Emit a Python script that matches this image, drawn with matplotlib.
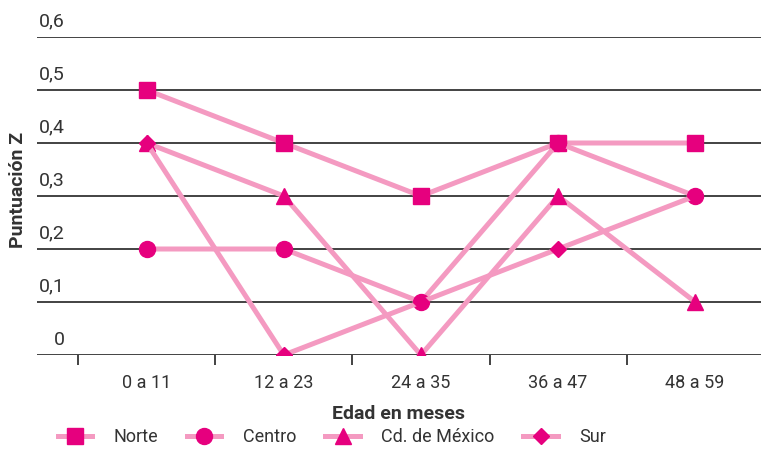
import matplotlib
matplotlib.use("Agg")
import matplotlib.pyplot as plt
from matplotlib.lines import Line2D

plt.rcParams['font.family'] = ['Roboto', 'DejaVu Sans']

# datos
edades = ['0 a 11', '12 a 23', '24 a 35', '36 a 47', '48 a 59']
norte = [0.5, 0.4, 0.3, 0.4, 0.4]
centro = [0.2, 0.2, 0.1, 0.4, 0.3]
cdmx = [0.4, 0.3, 0.0, 0.3, 0.1]
sur = [0.4, 0.0, 0.1, 0.2, 0.3]
y_ticks = [0, 0.1, 0.2, 0.3, 0.4, 0.5, 0.6]
y_labels = ['0', '0,1', '0,2', '0,3', '0,4', '0,5', '0,6']

linea = '#f49ac1'
marca = '#e6007e'

fig = plt.figure(figsize=(7.61, 4.49), dpi=100)
ax = fig.add_axes([37 / 761, (449 - 355) / 449, 1 - 37 / 761, 318 / 449])

x = list(range(len(edades)))
series = [('Norte', norte, 's'), ('Centro', centro, 'o'),
          ('Cd. de México', cdmx, '^'), ('Sur', sur, 'D')]
tam = {'s': 11, 'o': 11.5, '^': 11, 'D': 8}

for yv in y_ticks:
    ax.axhline(yv, color='#222222', lw=1.2, zorder=1)

for nombre, vals, m in series:
    ax.plot(x, vals, color=linea, lw=3.6, marker=m, markersize=tam[m],
            markerfacecolor=marca, markeredgecolor=marca, zorder=3, label=nombre)

ax.set_xlim(-0.8, 4.48)
ax.set_ylim(0, 0.6)
for s in ax.spines.values():
    s.set_visible(False)

# etiquetas del eje y encima de las lineas
ax.set_yticks([])
for yv, lab in zip(y_ticks, y_labels):
    ax.text(-0.6, yv + 0.012, lab, ha='right', va='bottom', fontsize=14, color='#333333')

ax.set_xticks([i - 0.5 for i in x])
ax.set_xticklabels([])
ax.set_xticks(x, minor=True)
ax.set_xticklabels(edades, minor=True, fontsize=13, color='#333333')
ax.tick_params(axis='x', which='major', length=7, width=1.2, color='#222222', direction='out')
ax.tick_params(axis='x', which='minor', length=0, pad=14)

ax.set_xlabel('Edad en meses', fontsize=14, fontweight='bold', color='#333333', labelpad=9)
fig.text(18 / 761, 1 - 190 / 449, 'Puntuación Z', rotation=90, fontsize=14,
         fontweight='bold', color='#333333', ha='center', va='center')

handles = [Line2D([], [], color=linea, lw=3.6, marker=m, markersize=tam[m],
                  markerfacecolor=marca, markeredgecolor=marca) for _, _, m in series]
fig.legend(handles, [s[0] for s in series], loc='center left', bbox_to_anchor=(45 / 761, 1 - 437 / 449),
           ncol=4, frameon=False, fontsize=13, handlelength=1.9, handletextpad=1.2,
           columnspacing=1.6, labelcolor='#333333', borderpad=0.2)

fig.savefig('out.png', dpi=100)
